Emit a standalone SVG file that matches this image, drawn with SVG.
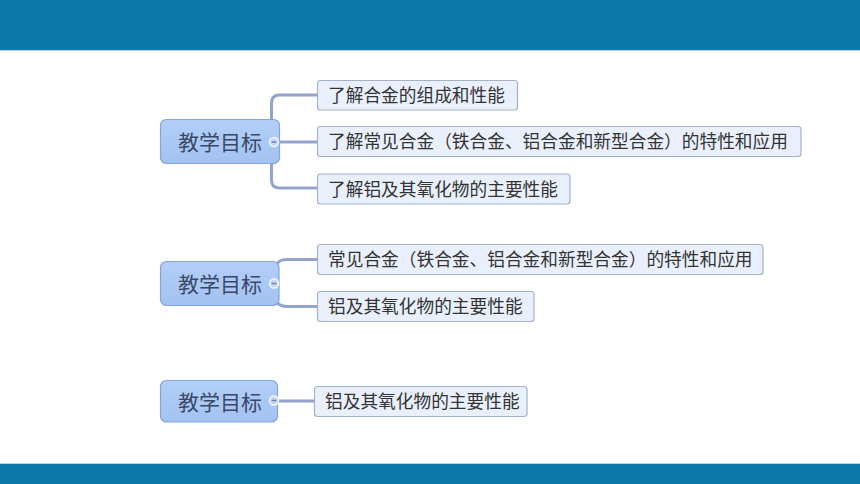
<svg xmlns="http://www.w3.org/2000/svg" width="860" height="484" viewBox="0 0 860 484">
<defs>
<linearGradient id="mg" x1="0" y1="0" x2="0" y2="1">
<stop offset="0" stop-color="#b3cff8"/>
<stop offset="1" stop-color="#a2c2f2"/>
</linearGradient>
<style>
.main rect{fill:url(#mg);stroke:#86a4d6;stroke-width:1.2}
.main text{font-family:"Noto Sans CJK SC","Noto Sans",sans-serif;font-size:21px;fill:#3a4866}
.child rect{fill:#e9f0fb;stroke:#a4b2c8;stroke-width:1.2}
.child text{font-family:"Noto Sans CJK SC","Noto Sans",sans-serif;font-size:17.7px;fill:#333}
.conn path{fill:none;stroke:#94a3cc;stroke-width:3}
.tog circle{fill:#c9d5ee;stroke:#f4f7fd;stroke-width:1.4}
.tog line{stroke:#6f80a8;stroke-width:1.5}
</style>
</defs>
<rect x="0" y="0" width="860" height="50" fill="#0a78aa"/>
<rect x="0" y="50" width="860" height="1" fill="#b9d8ea"/>
<rect x="0" y="463" width="860" height="1" fill="#c8d4dc"/>
<rect x="0" y="464" width="860" height="20" fill="#0a78aa"/>

<g id="connectors" class="conn">
<path d="M271.5 120 L271.5 103 Q271.5 95 279.5 95 L317 95"/>
<path d="M280 142 L317 142"/>
<path d="M271.5 163 L271.5 180 Q271.5 188 279.5 188 L317 188"/>
<path d="M276 266 Q278 259.5 287 259.5 L317 259.5"/>
<path d="M276 300 Q278 306.5 287 306.5 L317 306.5"/>
<path d="M278 401 L314 401"/>
</g>

<g id="root1" class="main">
<rect x="160.5" y="119.5" width="119" height="44" rx="6"/>
<text x="178" y="150">教学目标</text>
</g>
<g id="root1-toggle" class="tog">
<circle cx="274" cy="142" r="4.5"/><line x1="271.6" y1="142" x2="276.4" y2="142"/>
</g>
<g id="c1a" class="child">
<rect x="317.5" y="80.5" width="200" height="29.5" rx="3"/>
<text x="328" y="101.5">了解合金的组成和性能</text>
</g>
<g id="c1b" class="child">
<rect x="317.5" y="126.5" width="483.5" height="30" rx="3"/>
<text x="328" y="148">了解常见合金（铁合金、铝合金和新型合金）的特性和应用</text>
</g>
<g id="c1c" class="child">
<rect x="317.5" y="174" width="252.5" height="30" rx="3"/>
<text x="328" y="195.5">了解铝及其氧化物的主要性能</text>
</g>

<g id="root2" class="main">
<rect x="160.5" y="261.5" width="118.5" height="44" rx="6"/>
<text x="178" y="292">教学目标</text>
</g>
<g id="root2-toggle" class="tog">
<circle cx="274" cy="283.5" r="4.5"/><line x1="271.6" y1="283.5" x2="276.4" y2="283.5"/>
</g>
<g id="c2a" class="child">
<rect x="317.5" y="244.5" width="445.5" height="30" rx="3"/>
<text x="328" y="266">常见合金（铁合金、铝合金和新型合金）的特性和应用</text>
</g>
<g id="c2b" class="child">
<rect x="317.5" y="291.5" width="216.5" height="30" rx="3"/>
<text x="328" y="313">铝及其氧化物的主要性能</text>
</g>

<g id="root3" class="main">
<rect x="160.5" y="380.5" width="117" height="41.5" rx="6"/>
<text x="178" y="409.5">教学目标</text>
</g>
<g id="root3-toggle" class="tog">
<circle cx="274" cy="400.5" r="4.5"/><line x1="271.6" y1="400.5" x2="276.4" y2="400.5"/>
</g>
<g id="c3a" class="child">
<rect x="314.5" y="386.5" width="212.5" height="30" rx="3"/>
<text x="325" y="408">铝及其氧化物的主要性能</text>
</g>
</svg>
